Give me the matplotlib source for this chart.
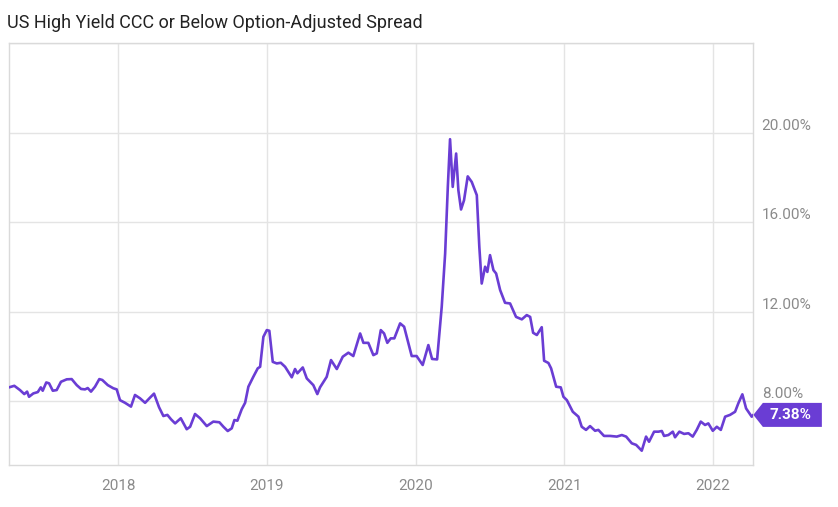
import matplotlib.pyplot as plt
import matplotlib.transforms as mtransforms
from matplotlib.patches import Polygon

plt.rcParams['font.family'] = ['Roboto', 'DejaVu Sans']

years = [
    2017.264, 2017.300, 2017.338, 2017.367, 2017.386, 2017.399, 2017.428, 2017.458,
    2017.478, 2017.491, 2017.515, 2017.534, 2017.559, 2017.585, 2017.614, 2017.653,
    2017.686, 2017.720, 2017.749, 2017.776, 2017.794, 2017.816, 2017.843, 2017.872,
    2017.892, 2017.929, 2017.966, 2017.989, 2018.011, 2018.045, 2018.085, 2018.112,
    2018.146, 2018.180, 2018.213, 2018.240, 2018.274, 2018.303, 2018.330, 2018.355,
    2018.382, 2018.420, 2018.460, 2018.483, 2018.516, 2018.550, 2018.595, 2018.639,
    2018.680, 2018.707, 2018.736, 2018.763, 2018.781, 2018.801, 2018.830, 2018.853,
    2018.875, 2018.908, 2018.938, 2018.954, 2018.976, 2018.999, 2019.016, 2019.039,
    2019.066, 2019.093, 2019.122, 2019.167, 2019.189, 2019.205, 2019.241, 2019.268,
    2019.312, 2019.339, 2019.357, 2019.402, 2019.431, 2019.470, 2019.510, 2019.548,
    2019.581, 2019.627, 2019.649, 2019.682, 2019.716, 2019.739, 2019.766, 2019.788,
    2019.810, 2019.833, 2019.857, 2019.896, 2019.923, 2019.974, 2020.007, 2020.048,
    2020.086, 2020.111, 2020.145, 2020.176, 2020.199, 2020.217, 2020.232, 2020.250,
    2020.273, 2020.288, 2020.306, 2020.326, 2020.351, 2020.378, 2020.412, 2020.429,
    2020.445, 2020.468, 2020.483, 2020.501, 2020.524, 2020.542, 2020.569, 2020.602,
    2020.636, 2020.676, 2020.715, 2020.748, 2020.771, 2020.791, 2020.816, 2020.849,
    2020.865, 2020.894, 2020.912, 2020.946, 2020.977, 2020.995, 2021.018, 2021.058,
    2021.096, 2021.118, 2021.147, 2021.174, 2021.208, 2021.230, 2021.268, 2021.309,
    2021.354, 2021.388, 2021.417, 2021.455, 2021.484, 2021.522, 2021.551, 2021.571,
    2021.605, 2021.634, 2021.657, 2021.672, 2021.701, 2021.731, 2021.746, 2021.775,
    2021.807, 2021.836, 2021.865, 2021.892, 2021.919, 2021.948, 2021.970, 2022.000,
    2022.027, 2022.054, 2022.083, 2022.116, 2022.150, 2022.172, 2022.199, 2022.224,
    2022.262, 2022.273,
]

# spread in percent
spread = [
    8.61, 8.68, 8.49, 8.31, 8.42, 8.19, 8.34, 8.40,
    8.61, 8.46, 8.83, 8.79, 8.46, 8.49, 8.86, 8.97,
    8.98, 8.71, 8.54, 8.52, 8.58, 8.42, 8.64, 8.98,
    8.94, 8.71, 8.57, 8.52, 8.04, 7.92, 7.75, 8.27,
    8.12, 7.92, 8.15, 8.33, 7.72, 7.33, 7.38, 7.18,
    7.00, 7.23, 6.74, 6.85, 7.42, 7.23, 6.88, 7.08,
    7.05, 6.85, 6.66, 6.78, 7.15, 7.12, 7.63, 7.92,
    8.64, 9.08, 9.46, 9.53, 10.87, 11.17, 11.14, 9.75,
    9.68, 9.71, 9.53, 9.06, 9.43, 9.24, 9.50, 9.01,
    8.71, 8.31, 8.61, 9.08, 9.83, 9.43, 9.98, 10.16,
    10.01, 11.02, 10.60, 10.60, 10.05, 10.13, 11.17, 11.02,
    10.60, 10.80, 10.80, 11.47, 11.32, 10.01, 10.01, 9.61,
    10.50, 9.88, 9.86, 12.21, 14.59, 17.57, 19.70, 17.57,
    19.06, 17.42, 16.56, 16.97, 18.04, 17.79, 17.20, 14.89,
    13.25, 14.00, 13.77, 14.52, 13.85, 13.70, 12.96, 12.39,
    12.36, 11.76, 11.65, 11.84, 11.76, 11.05, 10.95, 11.30,
    9.80, 9.70, 9.46, 8.64, 8.61, 8.19, 8.04, 7.52,
    7.30, 6.85, 6.71, 6.88, 6.67, 6.71, 6.44, 6.44,
    6.41, 6.48, 6.41, 6.11, 6.04, 5.78, 6.41, 6.18,
    6.63, 6.63, 6.66, 6.44, 6.48, 6.63, 6.38, 6.63,
    6.53, 6.56, 6.41, 6.71, 7.08, 6.93, 7.00, 6.67,
    6.85, 6.71, 7.30, 7.38, 7.52, 7.90, 8.30, 7.67,
    7.30, 7.38,
]

x_ticks = [2018, 2019, 2020, 2021, 2022]
y_ticks = [8, 12, 16, 20, 24]
y_labels = ["8.00%", "12.00%", "16.00%", "20.00%", ""]

line_color = "#6a3dd4"
grid_color = "#e4e4e4"
label_color = "#8a8a8a"

fig = plt.figure(figsize=(8.38, 5.07), dpi=100)
ax = fig.add_axes([0.0107, 0.0828, 0.8883, 0.8324])

ax.plot(years, spread, color=line_color, lw=1.9, solid_joinstyle="round", zorder=3)

ax.set_xlim(2017.264, 2022.273)
ax.set_ylim(5.14, 24.0)

ax.set_xticks(x_ticks)
ax.set_xticklabels([str(y) for y in x_ticks])
ax.set_yticks(y_ticks)
ax.set_yticklabels(y_labels)
ax.yaxis.tick_right()
ax.tick_params(axis="both", length=0, labelsize=11, colors=label_color)
ax.tick_params(axis="x", pad=10)
ax.tick_params(axis="y", pad=6)
for lab in ax.get_yticklabels():
    lab.set_va("bottom")

ax.grid(True, color=grid_color, lw=1.0, zorder=0)
for s in ax.spines.values():
    s.set_color("#dadada")
    s.set_linewidth(1.0)

# last value tag
last_x, last_y = years[-1], spread[-1]
tag_trans = fig.dpi_scale_trans + mtransforms.ScaledTranslation(last_x, last_y, ax.transData)
tag = Polygon([(0, 0), (0.095, 0.12), (0.685, 0.12), (0.685, -0.12), (0.095, -0.12)],
              closed=True, transform=tag_trans, facecolor=line_color, edgecolor="none",
              clip_on=False, zorder=5)
ax.add_patch(tag)
ax.text(0.37, 0.0, f"{last_y:.2f}%", transform=tag_trans, ha="center", va="center",
        color="white", fontsize=11, fontweight="bold", zorder=6, clip_on=False)

fig.text(0.0084, 1 - 28 / 507, "US High Yield CCC or Below Option-Adjusted Spread",
         ha="left", va="baseline", fontsize=13, color="#222222")

fig.savefig("out.png", dpi=100)
